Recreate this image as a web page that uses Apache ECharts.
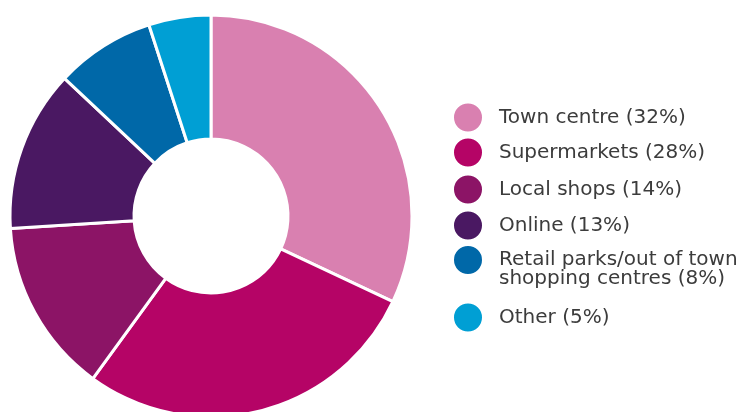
<!DOCTYPE html>
<html>
<head>
<meta http-equiv="content-type" content="text/html; charset=UTF-8">
<title>Where people shop</title>
<script src="https://cdn.jsdelivr.net/npm/echarts@6/dist/echarts.min.js"></script>
<style>
  html, body { margin: 0; padding: 0; background: #fff; }
</style>
</head>
<body>
	<div id="main" style="width: 755px; height: 412px;"></div>
	<script type="text/javascript">

        // data
        var names = ['Town centre', 'Supermarkets', 'Local shops', 'Online', 'Retail parks/out of town\nshopping centres', 'Other'];
        var shares = [32, 28, 14, 13, 8, 5];
        var colours = ['#d980b0', '#b50466', '#8c1466', '#4a1862', '#0068a8', '#009fd4'];
        // vertical centre of each legend marker
        var legendY = [116.5, 151.5, 188.5, 224.5, 259.5, 316.5];

        var myChart = echarts.init(document.getElementById('main'));

        var pieData = names.map(function (n, i) {
            return { name: n, value: shares[i], itemStyle: { color: colours[i] } };
        });

        function label(name) {
            var i = names.indexOf(name);
            var txt = name + ' (' + shares[i] + '%)';
            // two-line entry: blank line on top so the marker sits on the first line
            return name.indexOf('\n') >= 0 ? '\n' + txt : txt;
        }

        var legends = names.map(function (n, i) {
            var two = n.indexOf('\n') >= 0;
            return {
                orient: 'vertical',
                left: 452,
                top: two ? legendY[i] - 28.5 : legendY[i] - 15,
                padding: 0,
                icon: 'circle',
                itemWidth: 30,
                itemHeight: 30,
                selectedMode: false,
                formatter: label,
                textStyle: {
                    fontFamily: 'DejaVu Sans',
                    fontSize: 20,
                    lineHeight: 19,
                    color: '#3c3c3c',
                    padding: [0, 0, 0, 11]
                },
                data: [n]
            };
        });

        var option = {
            animation: false,
            legend: legends,
            series: [{
                name: 'Shopping',
                type: 'pie',
                center: [211, 216],
                radius: [77, 201],
                startAngle: 90,
                clockwise: true,
                silent: true,
                label: { show: false },
                labelLine: { show: false },
                itemStyle: { borderColor: '#ffffff', borderWidth: 3 },
                data: pieData
            }]
        };
        myChart.setOption(option);
    </script>
</body>
</html>
